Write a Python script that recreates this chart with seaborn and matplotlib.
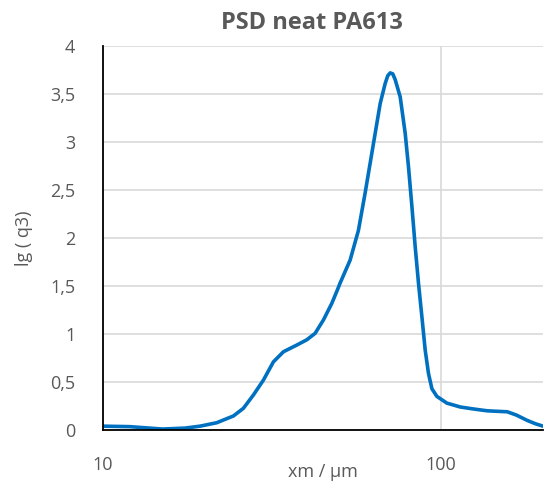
import pandas as pd
import matplotlib
matplotlib.use("Agg")
import matplotlib.pyplot as plt
from matplotlib.ticker import FixedLocator, FuncFormatter, NullFormatter
import seaborn as sns

# particle size (um) and lg(q3)
size_um = [10, 12.0, 15.0, 17.5, 19.36, 21.70, 24.30, 26.01, 27.85, 29.81, 31.91,
           34.16, 37.42, 40.06, 42.39, 44.85, 47.50, 49.34, 50.24, 53.80, 56.93,
           59.59, 61.66, 63.80, 66.01, 68.30, 69.5, 70.67, 71.9, 73.11, 75.65, 78.27,
           80.05, 81.92, 83.78, 85.68, 87.69, 89.70, 91.71, 93.87, 97.12, 103.96,
           113.8, 124.0, 136.8, 146.0, 156.8, 167.0, 179.6, 190.0, 200]
lg_q3 = [0.04, 0.035, 0.01, 0.02, 0.04, 0.076, 0.146, 0.226, 0.365, 0.52, 0.71,
         0.815, 0.885, 0.94, 1.007, 1.146, 1.32, 1.46, 1.53, 1.77, 2.08,
         2.47, 2.78, 3.09, 3.40, 3.61, 3.69, 3.72, 3.71, 3.65, 3.47, 3.09,
         2.74, 2.33, 1.91, 1.53, 1.18, 0.83, 0.59, 0.43, 0.35, 0.28,
         0.24, 0.22, 0.20, 0.195, 0.19, 0.155, 0.10, 0.065, 0.04]
y_ticks = [0, 0.5, 1, 1.5, 2, 2.5, 3, 3.5, 4]
x_major = [10, 100]
x_minor = [20, 30, 40, 50, 60, 70, 80, 90, 200]

df = pd.DataFrame({"xm": size_um, "lgq3": lg_q3})

sns.set_style("white")
plt.rcParams["font.family"] = ["Open Sans", "DejaVu Sans"]
grey = "#595959"

fig = plt.figure(figsize=(5.46, 4.92), dpi=100)
ax = fig.add_axes([0.1886, 0.126, 0.8059, 0.7805])

sns.lineplot(data=df, x="xm", y="lgq3", ax=ax, color="#0070C0", linewidth=2.6,
             solid_joinstyle="round", solid_capstyle="round")

ax.set_xscale("log")
ax.set_xlim(10, 200)
ax.set_ylim(0, 4)

ax.xaxis.set_major_locator(FixedLocator(x_major))
ax.xaxis.set_minor_locator(FixedLocator(x_minor))
ax.xaxis.set_major_formatter(FuncFormatter(lambda v, p: f"{v:g}"))
ax.xaxis.set_minor_formatter(NullFormatter())
ax.yaxis.set_major_locator(FixedLocator(y_ticks))
ax.yaxis.set_major_formatter(FuncFormatter(lambda v, p: f"{v:g}".replace(".", ",")))

ax.grid(True, which="major", color="#d9d9d9", linewidth=1.2)
ax.set_axisbelow(True)

for side in ["top", "right"]:
    ax.spines[side].set_visible(False)
for side in ["left", "bottom"]:
    ax.spines[side].set_color("black")
    ax.spines[side].set_linewidth(1.3)

ax.tick_params(axis="x", which="major", direction="inout", length=10, width=1.2,
               color="black", labelsize=13, labelcolor=grey, pad=14)
ax.tick_params(axis="x", which="minor", direction="out", length=5, width=1.2,
               color="black")
ax.tick_params(axis="y", which="major", length=0, labelsize=13, labelcolor=grey, pad=20)

ax.set_xlabel("xm / µm", fontsize=13, color=grey, labelpad=-8)
ax.set_ylabel("lg ( q3)", fontsize=13, color=grey, labelpad=12)
ax.set_title("PSD neat PA613", fontsize=17, fontweight="bold", color=grey, pad=12, x=0.475)

fig.savefig("out.png", dpi=100)
